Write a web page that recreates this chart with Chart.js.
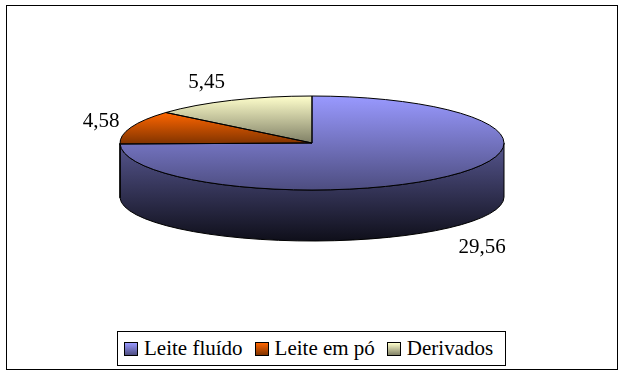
<!DOCTYPE html>
<html lang="pt">
<head>
<meta charset="utf-8">
<title>Leite</title>
<script src="https://cdn.jsdelivr.net/npm/chart.js@4"></script>
<style>
  html, body { margin: 0; background: #fff; }
  #wrap { position: relative; width: 625px; height: 375px; overflow: hidden; }
  #legend {
    position: absolute; left: 117px; top: 331px; box-sizing: border-box;
    width: 389px; height: 35px; border: 1px solid #000; background: #fff;
    display: flex; align-items: center; padding-left: 6px;
    font: 21px "Liberation Serif", serif; color: #000; white-space: nowrap;
  }
  #legend .item { display: flex; align-items: center; margin-right: 12px; }
  #legend .swatch { box-sizing: border-box; width: 14px; height: 14px; border: 1px solid #000; margin-right: 6px; }
</style>
</head>
<body>
<div id="wrap">
  <canvas id="chart" width="625" height="375"></canvas>
  <div id="legend"></div>
</div>
<script>
const categories = ['Leite fluído', 'Leite em pó', 'Derivados'];
const values = [29.56, 4.58, 5.45];
const baseColors = [[153, 153, 255], [255, 102, 0], [255, 255, 204]];

// the flat pie gets squeezed onto this ellipse, the wall hangs under it
const top3d = { x: 312, y: 143, rx: 192, ry: 47 };
const bottom3d = { y: 197, ry: 44 };
// distance of each value label from the rim of its slice
const labelOffsets = [[33, 72], [-30, -6], [-25, -18]];

const rgb = (c, f) => `rgb(${c.map(v => Math.round(v * f)).join(',')})`;

function sliceGradient(context) {
  const chart = context.chart;
  const area = chart.chartArea;
  if (!area) return rgb(baseColors[context.dataIndex], 1);
  const r = Math.min(area.width, area.height) / 2;
  const cy = (area.top + area.bottom) / 2;
  const total = values.reduce((a, b) => a + b, 0);
  const before = values.slice(0, context.dataIndex).reduce((a, b) => a + b, 0);
  const a0 = before / total * 2 * Math.PI;
  const a1 = (before + values[context.dataIndex]) / total * 2 * Math.PI;
  const ys = [cy, cy - r * Math.cos(a0), cy - r * Math.cos(a1)];
  if (a0 <= 0 || a1 >= 2 * Math.PI) ys.push(cy - r);
  if (a0 <= Math.PI && a1 >= Math.PI) ys.push(cy + r);
  const g = chart.ctx.createLinearGradient(0, Math.min(...ys), 0, Math.max(...ys));
  g.addColorStop(0, rgb(baseColors[context.dataIndex], 1));
  g.addColorStop(1, rgb(baseColors[context.dataIndex], 0.5));
  return g;
}

function toCanvas(chart) {
  const arc = chart.getDatasetMeta(0).data[0];
  return { sx: top3d.rx / arc.outerRadius, sy: top3d.ry / arc.outerRadius, cx: arc.x, cy: arc.y };
}

const pie3d = {
  id: 'pie3d',
  beforeDraw(chart) {
    const ctx = chart.ctx;
    ctx.save();
    ctx.strokeStyle = '#000';
    ctx.lineWidth = 1;
    ctx.strokeRect(6.5, 5.5, 611, 364);
    ctx.restore();
  },
  beforeDatasetsDraw(chart) {
    const ctx = chart.ctx;
    // front wall, only the part of each slice that faces the viewer
    chart.getDatasetMeta(0).data.forEach((arc, i) => {
      const a = Math.max(arc.startAngle, 0);
      const b = Math.min(arc.endAngle, Math.PI);
      if (b <= a) return;
      const g = ctx.createLinearGradient(0, top3d.y, 0, bottom3d.y + bottom3d.ry);
      g.addColorStop(0, rgb(baseColors[i], 0.56));
      g.addColorStop(1, rgb(baseColors[i], 0.1));
      ctx.beginPath();
      ctx.ellipse(top3d.x, top3d.y, top3d.rx, top3d.ry, 0, a, b);
      ctx.ellipse(top3d.x, bottom3d.y, top3d.rx, bottom3d.ry, 0, b, a, true);
      ctx.closePath();
      ctx.fillStyle = g;
      ctx.fill();
      ctx.strokeStyle = '#000';
      ctx.lineWidth = 1;
      ctx.stroke();
    });
    const t = toCanvas(chart);
    ctx.save();
    ctx.translate(top3d.x, top3d.y);
    ctx.scale(t.sx, t.sy);
    ctx.translate(-t.cx, -t.cy);
  },
  afterDatasetsDraw(chart) {
    const ctx = chart.ctx;
    ctx.restore();
    // outlines are stroked unscaled so they stay 1px all round
    chart.getDatasetMeta(0).data.forEach((arc, i) => {
      ctx.beginPath();
      ctx.moveTo(top3d.x, top3d.y);
      ctx.ellipse(top3d.x, top3d.y, top3d.rx, top3d.ry, 0, arc.startAngle, arc.endAngle);
      ctx.closePath();
      ctx.strokeStyle = '#000';
      ctx.lineWidth = 1;
      ctx.stroke();

      const mid = (arc.startAngle + arc.endAngle) / 2;
      ctx.fillStyle = '#000';
      ctx.font = '21px "Liberation Serif", serif';
      ctx.textAlign = 'center';
      ctx.textBaseline = 'middle';
      ctx.fillText(
        String(values[i]).replace('.', ','),
        top3d.x + top3d.rx * Math.cos(mid) + labelOffsets[i][0],
        top3d.y + top3d.ry * Math.sin(mid) + labelOffsets[i][1]
      );
    });
  }
};

new Chart(document.getElementById('chart'), {
  type: 'pie',
  data: {
    labels: categories,
    datasets: [{ data: values, backgroundColor: sliceGradient, borderWidth: 0 }]
  },
  options: {
    responsive: false,
    animation: false,
    events: [],
    plugins: { legend: { display: false }, tooltip: { enabled: false } }
  },
  plugins: [pie3d]
});

const legend = document.getElementById('legend');
categories.forEach((name, i) => {
  const item = document.createElement('span');
  item.className = 'item';
  const swatch = document.createElement('span');
  swatch.className = 'swatch';
  swatch.style.background = `linear-gradient(${rgb(baseColors[i], 1)}, ${rgb(baseColors[i], 0.5)})`;
  item.append(swatch, name);
  legend.append(item);
});
</script>
</body>
</html>
